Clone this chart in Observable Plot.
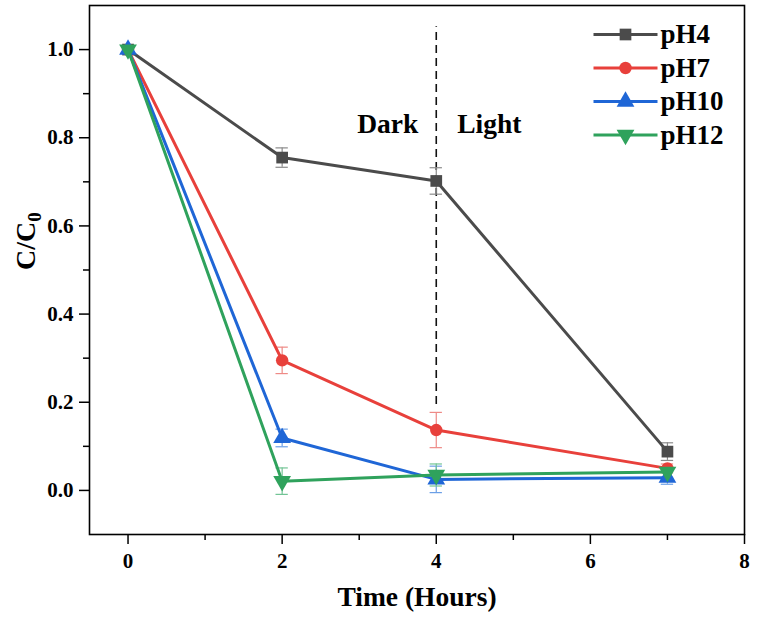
<!DOCTYPE html>
<html><head><meta charset="utf-8">
<script src="https://cdn.jsdelivr.net/npm/d3@7"></script>
<script src="https://cdn.jsdelivr.net/npm/@observablehq/plot@0.6"></script>
<style>
body{margin:0;background:#fff;}
#chart{width:761px;height:618px;}
#chart svg text{font-family:"Liberation Serif",serif !important;font-weight:bold;}
</style></head><body><div id="chart"></div>
<script>
const times = [0, 2, 4, 7];
const seriesNames = ["pH4", "pH7", "pH10", "pH12"];
const pH4 = [1.000, 0.755, 0.702, 0.088];
const pH7 = [1.000, 0.295, 0.137, 0.050];
const pH10 = [1.000, 0.119, 0.025, 0.029];
const pH12 = [1.000, 0.021, 0.035, 0.042];
const pH4Err = [0, 0.022, 0.030, 0.020];
const pH7Err = [0, 0.030, 0.040, 0.010];
const pH10Err = [0, 0.020, 0.030, 0.015];
const pH12Err = [0, 0.030, 0.025, 0.012];
const lineColors = ["#4b4b4b", "#e8403b", "#1f66d6", "#2fa25c"];
const errColors = ["#8a8a8a", "#ee8a86", "#6b9fe6", "#72c495"];
const xTicks = [0, 2, 4, 6, 8];
const xMinor = [1, 3, 5, 7];
const yTicks = [0, 0.2, 0.4, 0.6, 0.8, 1.0];
const yMinor = [0.1, 0.3, 0.5, 0.7, 0.9];
const phaseLabels = ["Dark", "Light"];
const phaseY = 0.83;
const switchTime = 4;
const switchSpan = [0.195, 1.052];

const values = [pH4, pH7, pH10, pH12];
const errors = [pH4Err, pH7Err, pH10Err, pH12Err];

const triangleDown = {
  draw(ctx, size) {
    const y = -Math.sqrt(size / (Math.sqrt(3) * 3));
    ctx.moveTo(0, -y * 2);
    ctx.lineTo(-Math.sqrt(3) * y, y);
    ctx.lineTo(Math.sqrt(3) * y, y);
    ctx.closePath();
  }
};
const legendLine = {
  draw(ctx) { ctx.moveTo(-32, 0); ctx.lineTo(32, 0); }
};
const symbols = [d3.symbolSquare, d3.symbolCircle, d3.symbolTriangle, triangleDown];
const radii = [6.6, 6.2, 6.6, 6.6];

const marks = [];
const font = {fontFamily: "Liberation Serif", fontWeight: "bold"};

// axes
marks.push(Plot.axisX({ticks: xTicks, tickSize: 10, tickPadding: 9, fontSize: 21, label: null, strokeWidth: 1.5, ...font}));
marks.push(Plot.axisX({ticks: xMinor, tickSize: 6, text: null, label: null, strokeWidth: 1.5}));
marks.push(Plot.axisY({ticks: yTicks, tickSize: 10, tickPadding: 6, fontSize: 21, tickFormat: d3.format(".1f"), label: null, strokeWidth: 1.5, ...font}));
marks.push(Plot.axisY({ticks: yMinor, tickSize: 6, text: null, label: null, strokeWidth: 1.5}));
marks.push(Plot.frame({stroke: "#000", strokeWidth: 1.6}));

// dark/light divider
marks.push(Plot.ruleX([switchTime], {y1: switchSpan[0], y2: switchSpan[1], stroke: "#111", strokeWidth: 1.6, strokeDasharray: "8,5"}));
marks.push(Plot.text([phaseLabels[0]], {x: () => switchTime, y: () => phaseY, text: d => d, textAnchor: "end", dx: -18, fontSize: 27.5, ...font}));
marks.push(Plot.text([phaseLabels[1]], {x: () => switchTime, y: () => phaseY, text: d => d, textAnchor: "start", dx: 21, fontSize: 27.5, ...font}));

seriesNames.forEach((name, i) => {
  const rows = times.map((t, j) => ({t, v: values[i][j], e: errors[i][j]}));
  const withErr = rows.filter(d => d.e > 0);
  marks.push(Plot.ruleX(withErr, {x: "t", y1: d => d.v - d.e, y2: d => d.v + d.e, stroke: errColors[i], strokeWidth: 1.2}));
  marks.push(Plot.ruleY(withErr, {y: d => d.v + d.e, x1: d => d.t - 0.08, x2: d => d.t + 0.08, stroke: errColors[i], strokeWidth: 1.2}));
  marks.push(Plot.ruleY(withErr, {y: d => d.v - d.e, x1: d => d.t - 0.08, x2: d => d.t + 0.08, stroke: errColors[i], strokeWidth: 1.2}));
});
seriesNames.forEach((name, i) => {
  const rows = times.map((t, j) => ({t, v: values[i][j]}));
  marks.push(Plot.line(rows, {x: "t", y: "v", stroke: lineColors[i], strokeWidth: 3}));
  marks.push(Plot.dot(rows, {x: "t", y: "v", symbol: symbols[i], r: radii[i], fill: lineColors[i], stroke: "none"}));
});

// legend
seriesNames.forEach((name, i) => {
  const dy = 29 + 33.5 * i;
  marks.push(Plot.dot([name], {frameAnchor: "top-right", dx: -119, dy, symbol: legendLine, r: 1, fill: "none", stroke: lineColors[i], strokeWidth: 3}));
  marks.push(Plot.dot([name], {frameAnchor: "top-right", dx: -119, dy, symbol: symbols[i], r: radii[i], fill: lineColors[i], stroke: "none"}));
  marks.push(Plot.text([name], {frameAnchor: "top-right", dx: -84, dy, text: d => d, textAnchor: "start", lineAnchor: "middle", fontSize: 27, ...font}));
});

// axis titles
marks.push(Plot.text(["Time (Hours)"], {frameAnchor: "bottom", dy: 63, lineAnchor: "middle", text: d => d, fontSize: 27.5, ...font}));
marks.push(Plot.text(["C/C0"], {frameAnchor: "left", dx: -63, rotate: -90, text: d => d, fontSize: 28, ...font}));

const plot = Plot.plot({
  width: 761,
  height: 618,
  marginLeft: 89,
  marginRight: 17,
  marginTop: 5,
  marginBottom: 84,
  x: {domain: [-0.5, 8]},
  y: {domain: [-0.1, 1.1]},
  style: {fontFamily: "Liberation Serif", fontWeight: "bold", color: "#000", background: "#fff"},
  marks
});

// subscript the 0 in C/C0
d3.select(plot).selectAll("text").each(function() {
  if (this.textContent === "C/C0") {
    const t = d3.select(this);
    t.text("C/C");
    t.append("tspan").attr("font-size", 19).attr("dy", "0.3em").text("0");
  }
});
document.getElementById("chart").appendChild(plot);
</script>
</body></html>
